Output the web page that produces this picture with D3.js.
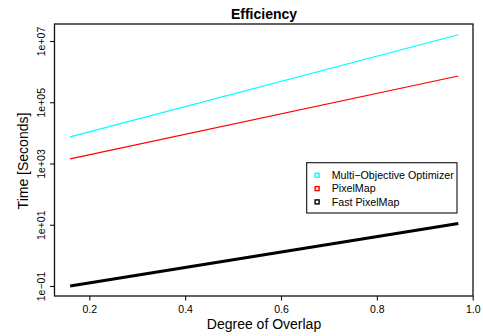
<!DOCTYPE html>
<html>
<head>
<meta charset="utf-8">
<script src="https://cdn.jsdelivr.net/npm/d3@7"></script>
<style>
  body { margin: 0; background: #fff; }
  text { font-family: "Liberation Sans", Arial, Helvetica, sans-serif; fill: #000; }
</style>
</head>
<body>
<div id="chart"></div>
<script>
// data
var overlap = [0.16, 0.97]
var seriesNames = ["Multi\u2212Objective Optimizer", "PixelMap", "Fast PixelMap"]
var seriesColors = ["#00ffff", "#ff0000", "#000000"]
var seriesWidths = [1.2, 1.2, 3]
var timeMoo = [7400, 1.6e7]
var timePixelMap = [1415, 7.2e5]
var timeFast = [0.1, 11]
var xTicks = [0.2, 0.4, 0.6, 0.8, 1.0]
var yTicks = [1e-1, 1e1, 1e3, 1e5, 1e7]
var yTickLabels = ["1e\u221201", "1e+01", "1e+03", "1e+05", "1e+07"]

var series = [timeMoo, timePixelMap, timeFast]

var width = 483, height = 336
var box = { left: 54.5, right: 473, top: 24, bottom: 296 }

var svg = d3.select("#chart").append("svg")
  .attr("width", width)
  .attr("height", height)

var x = d3.scaleLinear().domain([0.2, 1.0]).range([89.3, 472.7])
var y = d3.scaleLog().domain([1e-1, 1e7]).range([286, 41])

// data lines
var line = d3.line()
  .x(function (d) { return x(d[0]) })
  .y(function (d) { return y(d[1]) })

series.forEach(function (s, i) {
  svg.append("path")
    .attr("d", line(overlap.map(function (v, j) { return [v, s[j]] })))
    .attr("fill", "none")
    .attr("stroke", seriesColors[i])
    .attr("stroke-width", seriesWidths[i])
})

// plot box
svg.append("rect")
  .attr("x", box.left)
  .attr("y", box.top)
  .attr("width", box.right - box.left)
  .attr("height", box.bottom - box.top)
  .attr("fill", "none")
  .attr("stroke", "#111")
  .attr("stroke-width", 1.3)

// x axis
var xAxis = svg.append("g")
  .attr("transform", "translate(0," + box.bottom + ")")
  .call(d3.axisBottom(x).tickValues(xTicks).tickSize(4.5).tickPadding(5)
    .tickFormat(d3.format(".1f")))
xAxis.select(".domain").remove()
xAxis.selectAll("line").attr("stroke", "#111").attr("stroke-width", 1.1)
xAxis.selectAll("text")
  .style("font-family", "Liberation Sans, Arial, sans-serif")
  .style("font-size", "10.5px")

// y axis, labels rotated like R
var yAxis = svg.append("g")
  .attr("transform", "translate(" + box.left + ",0)")
  .call(d3.axisLeft(y).tickValues(yTicks).tickSize(4.5)
    .tickFormat(function (d, i) { return yTickLabels[i] }))
yAxis.select(".domain").remove()
yAxis.selectAll("line").attr("stroke", "#111").attr("stroke-width", 1.1)
yAxis.selectAll("text")
  .style("font-family", "Liberation Sans, Arial, sans-serif")
  .style("font-size", "10.5px")
  .attr("x", null)
  .attr("dy", null)
  .attr("text-anchor", "middle")
  .attr("transform", "translate(-9.5,0) rotate(-90)")

// titles
svg.append("text")
  .attr("x", 264)
  .attr("y", 19)
  .attr("text-anchor", "middle")
  .style("font-size", "14px")
  .style("font-weight", "bold")
  .text("Efficiency")

svg.append("text")
  .attr("x", 264)
  .attr("y", 329)
  .attr("text-anchor", "middle")
  .style("font-size", "14px")
  .text("Degree of Overlap")

svg.append("text")
  .attr("transform", "translate(28,161) rotate(-90)")
  .attr("text-anchor", "middle")
  .style("font-size", "14px")
  .text("Time [Seconds]")

// legend
var legend = svg.append("g").attr("transform", "translate(306.7,162.7)")
legend.append("rect")
  .attr("width", 150.3)
  .attr("height", 50.3)
  .attr("fill", "#fff")
  .attr("stroke", "#111")
  .attr("stroke-width", 1.1)

seriesNames.forEach(function (name, i) {
  var cy = 12.6 + i * 13.3
  legend.append("rect")
    .attr("x", 8.4)
    .attr("y", cy - 2)
    .attr("width", 4)
    .attr("height", 4)
    .attr("fill", "none")
    .attr("stroke", seriesColors[i])
    .attr("stroke-width", 1.4)
  legend.append("text")
    .attr("x", 25)
    .attr("y", cy + 3.7)
    .style("font-size", "10.7px")
    .text(name)
})
</script>
</body>
</html>
